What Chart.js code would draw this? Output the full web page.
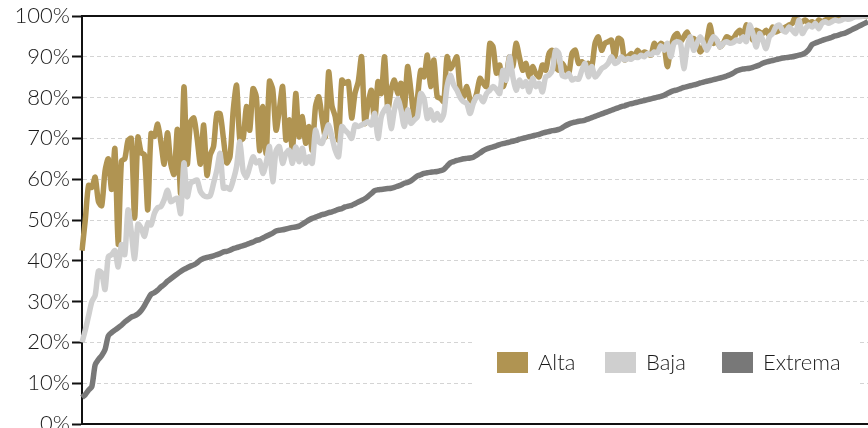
<!DOCTYPE html>
<html>
<head>
<meta charset="utf-8">
<script src="https://cdn.jsdelivr.net/npm/chart.js@4"></script>
<style>
  html, body { margin: 0; padding: 0; background: #fff; overflow: hidden; }
  #wrap { width: 868px; height: 448px; position: relative; }
</style>
</head>
<body>
<div id="wrap"><canvas id="chart"></canvas></div>
<script>
const seriesNames = ["Alta", "Baja", "Extrema"];
const seriesColors = ["#b09452", "#cfcfcf", "#787878"];

const alta = [
  42.5, 50, 58.5, 58, 60.5, 54.5, 53.5, 62, 65, 57.5,
  67.5, 44, 64.5, 65, 69.5, 70, 50.5, 70.3, 66.5, 66,
  52.5, 71.2, 70.5, 73.5, 69, 63.7, 71.4, 63.7, 61.2, 72.2,
  56.5, 82.6, 63.7, 74, 75, 70, 63.7, 73.3, 61, 66,
  68, 76, 76, 70, 64, 65.5, 77, 83, 69.6, 70,
  77.8, 72, 82.2, 80.2, 67, 77.8, 66.3, 84, 82, 72,
  77, 82.7, 69.6, 74.5, 67.1, 81, 70.4, 75.3, 68.8, 72.9,
  67.1, 77.8, 80.2, 75, 70.4, 86.3, 78, 75.3, 69.6, 84.3,
  83.5, 83.9, 75, 81, 83.9, 90, 73.7, 78.6, 81.8, 73.7,
  83.9, 81, 90, 77, 82, 84.3, 81, 83.5, 77, 87.6,
  81.8, 75.3, 80, 86.7, 85.1, 90.4, 82.7, 89.2, 80.2, 79.8,
  79, 90, 87.1, 88.4, 90, 81.8, 80.2, 82.7, 79.5, 79,
  81, 84.7, 83.5, 82.7, 93.3, 92.4, 86, 88, 82.7, 85.1,
  90, 87.6, 93.3, 90, 86.7, 88.4, 85.1, 87.6, 85.9, 85.1,
  88, 86.7, 90.8, 91.6, 87.6, 86.7, 88.4, 87, 85.9, 90.8,
  91.6, 88.4, 88.8, 88, 88.4, 87.6, 93.3, 94.9, 91.6, 93.3,
  93.7, 94.1, 90, 94.5, 94.1, 89.2, 90, 90.8, 90.2, 91.6,
  90.5, 91.2, 90.8, 90.4, 93.3, 92, 93.3, 92.5, 87.6, 92,
  94.9, 95.7, 93.7, 94.9, 96.1, 94.1, 94.5, 93.3, 91.2, 92.4,
  94.1, 97.8, 93.3, 94.1, 92.4, 93.3, 94.9, 94.5, 94.5, 95.7,
  96.5, 94.9, 97.8, 96.5, 94.1, 96.5, 96.1, 95.7, 96.5, 95.3,
  97.3, 96.1, 96.5, 96.9, 97.3, 97.8, 98.2, 100, 98.2, 98.6,
  99, 98.2, 98.6, 97.8, 99, 98.6, 99, 99.4, 99, 99.4,
  99.8, 99.4, 99.8, 100, 99.8, 100, 100, 100, 100, 100
];

const baja = [
  20, 23, 26.5, 30, 31.5, 37.5, 37, 33, 41, 41.5,
  42.5, 38.5, 44, 41.5, 52.5, 47, 40.5, 49, 48, 46,
  49.2, 48.8, 51.6, 53, 53.3, 55, 57.3, 54.5, 55, 55.3,
  51.6, 64, 55.7, 59, 59.5, 59.8, 57, 56, 55.7, 56,
  59, 62.2, 66.3, 57.8, 58, 57.5, 59.8, 63.1, 69.2, 62,
  60.6, 63, 65.5, 64, 64.5, 61.4, 64, 68, 59.4, 67,
  68, 63.9, 66.3, 67.1, 63.9, 67.9, 64.3, 67.6, 63.9, 65.5,
  63.9, 72, 69.2, 68.8, 71.2, 73.3, 70.4, 67.1, 65.5, 72.9,
  72, 71.2, 70, 73.3, 72.9, 73.3, 73.7, 74.1, 73.3, 76.1,
  70, 75.3, 77, 77.8, 72.4, 77, 79.8, 77, 72.9, 77,
  73.7, 74.5, 75.3, 81, 79.8, 74.9, 77, 74.5, 76.1, 74.5,
  76, 82.7, 85.5, 83.1, 81.8, 80, 79, 78.6, 76.1, 78.6,
  80.2, 80.2, 79, 81, 81.8, 82.7, 82, 81, 86.7, 84.3,
  90, 85.1, 81.8, 84.3, 82.7, 83.9, 81.4, 84.7, 82.7, 83.5,
  81.4, 85.1, 85.5, 86.7, 91.6, 90.8, 85.5, 85.1, 85.9, 84.3,
  84.7, 84.5, 86.7, 88.4, 85.1, 87.6, 85.1, 85.9, 87.1, 87.6,
  88.4, 90, 88.4, 88.8, 90, 89.2, 89.6, 89.4, 90, 89.8,
  90.4, 90, 90.8, 90.5, 91.2, 91, 92.7, 91.6, 93.3, 90,
  93.3, 93.7, 93.3, 87.1, 92.4, 94.9, 91.6, 93.3, 94.9, 93.3,
  91.6, 93.3, 94.9, 94.1, 92.4, 93.3, 93.7, 93.3, 93.5, 94.1,
  93.8, 94.9, 93.7, 97.8, 95.7, 92.4, 95.7, 94.1, 92, 94.9,
  95.7, 97.3, 97.8, 96.5, 96.1, 97.3, 96.5, 95.7, 99, 95.7,
  96.9, 97.8, 97.3, 98.2, 96.9, 98.2, 98.6, 98.2, 98.6, 99,
  98.8, 99, 99.4, 99.2, 99.4, 99.8, 99.8, 99.9, 100, 100
];

const extrema = [
  6.5, 7.2, 8.3, 9.2, 14.5, 15.8, 16.8, 18.2, 21.6, 22.4,
  23, 23.6, 24.2, 25, 25.6, 26.2, 26.5, 27, 27.8, 29,
  30.5, 31.8, 32.2, 32.8, 33.6, 34.2, 35, 35.6, 36.2, 36.8,
  37.4, 37.9, 38.3, 38.7, 39, 39.5, 40.2, 40.6, 40.8, 41,
  41.2, 41.5, 41.8, 42.2, 42.3, 42.6, 43, 43.2, 43.5, 43.7,
  44, 44.3, 44.6, 45, 45.2, 45.6, 46, 46.4, 46.8, 47.3,
  47.5, 47.6, 47.8, 48, 48.2, 48.3, 48.5, 49, 49.5, 50,
  50.4, 50.7, 51, 51.3, 51.5, 51.8, 52, 52.3, 52.6, 52.8,
  53.2, 53.4, 53.6, 54, 54.4, 54.8, 55.2, 55.8, 56.5, 57.2,
  57.4, 57.5, 57.6, 57.7, 57.8, 58, 58.3, 58.6, 59, 59.2,
  59.6, 60.2, 60.8, 61.1, 61.4, 61.6, 61.7, 61.8, 61.9, 62.1,
  62.4, 63.2, 64, 64.3, 64.6, 64.8, 65, 65.1, 65.2, 65.4,
  65.9, 66.4, 67, 67.4, 67.7, 67.9, 68.2, 68.5, 68.7, 68.9,
  69.1, 69.3, 69.5, 69.8, 70, 70.2, 70.4, 70.6, 70.8, 71,
  71.3, 71.5, 71.7, 71.9, 72, 72.2, 72.6, 73.1, 73.5, 73.8,
  74, 74.2, 74.3, 74.5, 74.8, 75.1, 75.4, 75.7, 76, 76.3,
  76.6, 76.9, 77.2, 77.5, 77.8, 78, 78.3, 78.5, 78.7, 78.9,
  79.1, 79.3, 79.5, 79.7, 79.9, 80.1, 80.3, 80.6, 81, 81.4,
  81.7, 81.9, 82.2, 82.5, 82.7, 82.9, 83.1, 83.3, 83.6, 83.8,
  84, 84.2, 84.4, 84.6, 84.8, 85, 85.3, 85.6, 86, 86.5,
  86.8, 87, 87.1, 87.2, 87.4, 87.7, 88, 88.4, 88.7, 88.9,
  89.1, 89.3, 89.5, 89.7, 89.8, 89.9, 90, 90.2, 90.4, 90.6,
  91, 91.8, 93, 93.4, 93.7, 94, 94.3, 94.5, 94.8, 95.1,
  95.3, 95.6, 95.8, 96.2, 96.6, 97, 97.4, 97.8, 98.2, 98.6
];

// x axis has no labels in the original, just one slot per observation
const categories = alta.map((_, i) => String(i + 1));
const yTicks = [0, 10, 20, 30, 40, 50, 60, 70, 80, 90, 100];

const FONT = "Lato, 'Open Sans', sans-serif";

// top/bottom frame lines plus the boxed legend sitting inside the plot
const frameAndLegend = {
  id: "frameAndLegend",
  afterDatasetsDraw(chart) {
    const { ctx, chartArea } = chart;
    const { left, right, top, bottom } = chartArea;
    ctx.save();
    ctx.fillStyle = "#111";
    ctx.fillRect(left - 1, top - 1, right - left + 1, 2);
    ctx.fillRect(left - 1, bottom - 1, right - left + 1, 2);

    ctx.fillStyle = "#fff";
    ctx.fillRect(473, 328, 387, 68);

    ctx.font = "300 22px " + FONT;
    ctx.textBaseline = "middle";
    ctx.textAlign = "left";
    const starts = [497, 605, 722];
    const cy = 363;
    chart.data.datasets.forEach((ds, i) => {
      ctx.fillStyle = ds.borderColor;
      ctx.fillRect(starts[i], cy - 11, 31, 21);
      ctx.fillStyle = "#1a1a1a";
      ctx.fillText(ds.label, starts[i] + 41, cy);
    });
    ctx.restore();
  }
};

new Chart(document.getElementById("chart"), {
  type: "line",
  data: {
    labels: categories,
    datasets: [
      { label: seriesNames[0], data: alta, borderColor: seriesColors[0], backgroundColor: seriesColors[0], order: 3 },
      { label: seriesNames[1], data: baja, borderColor: seriesColors[1], backgroundColor: seriesColors[1], order: 2 },
      { label: seriesNames[2], data: extrema, borderColor: seriesColors[2], backgroundColor: seriesColors[2], order: 1 }
    ]
  },
  options: {
    responsive: true,
    maintainAspectRatio: false,
    animation: false,
    layout: { padding: { top: 16, right: 0, bottom: 24, left: 0 } },
    elements: {
      point: { radius: 0 },
      line: { borderWidth: 5.5, tension: 0.25, borderJoinStyle: "round" }
    },
    plugins: {
      legend: { display: false },
      tooltip: { enabled: false }
    },
    scales: {
      x: { display: false },
      y: {
        min: 0,
        max: 100,
        afterBuildTicks(scale) { scale.ticks = yTicks.map(v => ({ value: v })); },
        afterFit(scale) { scale.width = 82; },
        ticks: {
          callback: v => v + "%",
          color: "#1a1a1a",
          padding: 2,
          font: { family: FONT, size: 22, weight: "300" }
        },
        grid: {
          color: c => (c.tick && (c.tick.value === 0 || c.tick.value === 100)) ? "rgba(0,0,0,0)" : "#d4d4d4",
          lineWidth: 1,
          tickColor: "#111",
          tickWidth: 2,
          tickLength: 10
        },
        border: { color: "#111", width: 2, dash: [4, 3] }
      }
    }
  },
  plugins: [frameAndLegend]
});
</script>
</body>
</html>
